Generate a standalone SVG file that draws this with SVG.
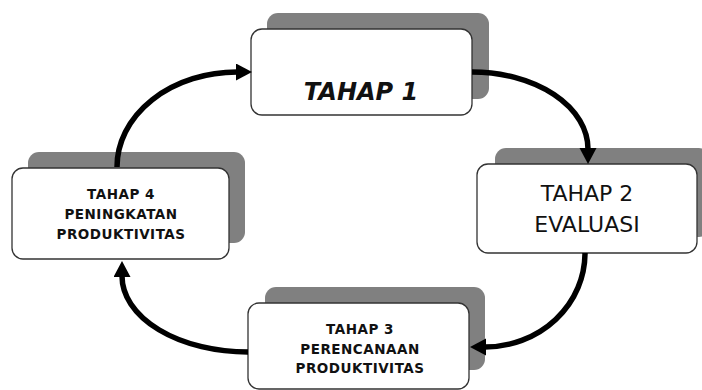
<svg xmlns="http://www.w3.org/2000/svg" width="702" height="390" viewBox="0 0 702 390">
<style>
.shadow{fill:#808080}
.box{fill:#fff;stroke:#333;stroke-width:1.3}
.t{font-family:"DejaVu Sans",Verdana,sans-serif;fill:#111;text-anchor:middle}
.small{font-size:13.5px;font-weight:bold;letter-spacing:0.5px}
.conn{fill:none;stroke:#000;stroke-width:5.5}
</style>
<defs>
<marker id="ah" markerUnits="userSpaceOnUse" markerWidth="20" markerHeight="20" refX="1" refY="8.5" orient="auto">
<polygon points="0,0 16,8.5 0,17" fill="#000"/>
</marker>
</defs>
<rect width="702" height="390" fill="#fff"/>
<g id="tahap1">
<rect class="shadow" x="267" y="13" width="222" height="86" rx="11"/>
<rect class="box" x="251" y="29" width="221" height="86" rx="11"/>
<text class="t" x="361" y="100" font-size="24" font-weight="bold" font-style="italic">TAHAP 1</text>
</g>
<g id="tahap2">
<rect class="shadow" x="495" y="148" width="215" height="89" rx="11"/>
<rect class="box" x="477" y="164" width="220" height="89" rx="11"/>
<text class="t" x="587" y="201" font-size="22">TAHAP 2</text>
<text class="t" x="587" y="232" font-size="22">EVALUASI</text>
</g>
<g id="tahap3">
<rect class="shadow" x="265" y="287" width="220" height="83" rx="11"/>
<rect class="box" x="248" y="303" width="221" height="86" rx="11"/>
<text class="t small" x="360" y="334">TAHAP 3</text>
<text class="t small" x="360" y="354">PERENCANAAN</text>
<text class="t small" x="360" y="373">PRODUKTIVITAS</text>
</g>
<g id="tahap4">
<rect class="shadow" x="28" y="152" width="217" height="91" rx="11"/>
<rect class="box" x="12" y="168" width="217" height="91" rx="11"/>
<text class="t small" x="121" y="199">TAHAP 4</text>
<text class="t small" x="121" y="219">PENINGKATAN</text>
<text class="t small" x="121" y="239">PRODUKTIVITAS</text>
</g>
<g id="connectors">
<path class="conn" d="M117,167 A120,95 0 0 1 237,72" marker-end="url(#ah)"/>
<path class="conn" d="M472,72 A116,77 0 0 1 588,149" marker-end="url(#ah)"/>
<path class="conn" d="M585,253 A100,94 0 0 1 485,347" marker-end="url(#ah)"/>
<path class="conn" d="M248,352 A126,76 0 0 1 122,276" marker-end="url(#ah)"/>
</g>
</svg>
